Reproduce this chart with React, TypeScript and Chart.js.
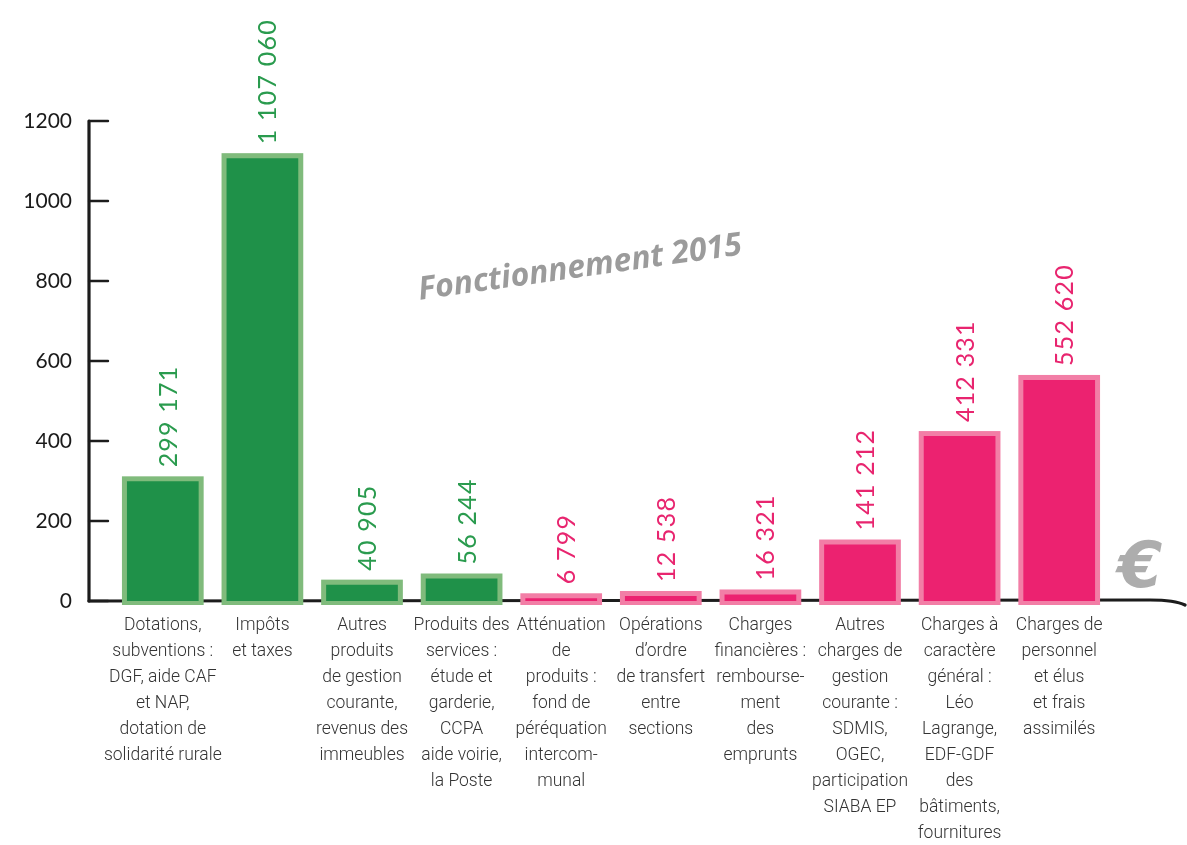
import React, { useEffect, useRef } from "react";
import { Chart, registerables } from "chart.js";

Chart.register(...registerables);

const categories: string[][] = [
  ["Dotations,", "subventions :", "DGF, aide CAF", "et NAP,", "dotation de", "solidarité rurale"],
  ["Impôts", "et taxes"],
  ["Autres", "produits", "de gestion", "courante,", "revenus des", "immeubles"],
  ["Produits des", "services :", "étude et", "garderie,", "CCPA", "aide voirie,", "la Poste"],
  ["Atténuation", "de", "produits :", "fond de", "péréquation", "intercom-", "munal"],
  ["Opérations", "d’ordre", "de transfert", "entre", "sections"],
  ["Charges", "financières :", "rembourse-", "ment", "des", "emprunts"],
  ["Autres", "charges de", "gestion", "courante :", "SDMIS,", "OGEC,", "participation", "SIABA EP"],
  ["Charges à", "caractère", "général :", "Léo", "Lagrange,", "EDF-GDF", "des", "bâtiments,", "fournitures"],
  ["Charges de", "personnel", "et élus", "et frais", "assimilés"],
];

const amounts: number[] = [299171, 1107060, 40905, 56244, 6799, 12538, 16321, 141212, 412331, 552620];

const groups: string[] = ["recette", "recette", "recette", "recette", "depense", "depense", "depense", "depense", "depense", "depense"];

const yTicks: number[] = [0, 200, 400, 600, 800, 1000, 1200];

const title = "Fonctionnement 2015";
const unit = "€";

const palette: Record<string, { fill: string; halo: string; text: string }> = {
  recette: { fill: "#1f9149", halo: "#80bb7c", text: "#2a9b4e" },
  depense: { fill: "#ec2270", halo: "#f27ea6", text: "#e8256f" },
};

const fmt = (v: number) => String(v).replace(/\B(?=(\d{3})+(?!\d))/g, " ");

const decor = {
  id: "decor",
  beforeDatasetsDraw(chart: any) {
    const ctx = chart.ctx as CanvasRenderingContext2D;
    const { left, bottom } = chart.chartArea;
    const ys = chart.scales.y;
    const axisX = left - 24;
    ctx.save();
    ctx.strokeStyle = "#1c1c1c";
    ctx.lineCap = "round";
    ctx.lineWidth = 3.2;
    ctx.beginPath();
    ctx.moveTo(axisX, ys.getPixelForValue(1200));
    ctx.lineTo(axisX, bottom);
    ctx.stroke();
    ctx.lineWidth = 2.4;
    yTicks.forEach((t) => {
      const py = ys.getPixelForValue(t);
      ctx.beginPath();
      ctx.moveTo(axisX, py);
      ctx.lineTo(axisX + 19, py);
      ctx.stroke();
    });
    ctx.lineWidth = 3.2;
    ctx.beginPath();
    ctx.moveTo(axisX, bottom);
    ctx.lineTo(1150, bottom - 1);
    ctx.quadraticCurveTo(1175, bottom - 1, 1185, bottom + 4);
    ctx.stroke();
    const meta = chart.getDatasetMeta(0);
    meta.data.forEach((bar: any, i: number) => {
      const p = bar.getProps(["x", "y", "base", "width"], true);
      ctx.fillStyle = palette[groups[i]].halo;
      ctx.fillRect(p.x - p.width / 2 - 5, p.y - 5, p.width + 10, p.base - p.y + 9);
    });
    ctx.restore();
  },
  afterDatasetsDraw(chart: any) {
    const ctx = chart.ctx as CanvasRenderingContext2D;
    const meta = chart.getDatasetMeta(0);
    ctx.save();
    meta.data.forEach((bar: any, i: number) => {
      const p = bar.getProps(["x", "y"], true);
      ctx.save();
      ctx.translate(p.x + 6, p.y - 14);
      ctx.rotate(-Math.PI / 2);
      ctx.fillStyle = palette[groups[i]].text;
      ctx.font = "25px 'Lato'";
      (ctx as any).letterSpacing = "1.2px";
      ctx.textAlign = "left";
      ctx.textBaseline = "middle";
      ctx.fillText(fmt(amounts[i]), 0, 0);
      ctx.restore();
    });
    ctx.save();
    ctx.translate(580, 268);
    ctx.rotate((-8 * Math.PI) / 180);
    ctx.fillStyle = "#9b9b9b";
    ctx.font = "italic bold 32px 'Open Sans'";
    ctx.textAlign = "center";
    ctx.textBaseline = "middle";
    ctx.fillText(title, 0, 0);
    ctx.restore();
    ctx.save();
    ctx.fillStyle = "#adadad";
    ctx.font = "italic bold 64px 'DejaVu Sans'";
    ctx.textAlign = "center";
    ctx.textBaseline = "middle";
    ctx.fillText(unit, 1140, 570);
    ctx.restore();
    ctx.restore();
  },
};

export default function App() {
  const ref = useRef<HTMLCanvasElement | null>(null);
  useEffect(() => {
    if (!ref.current) return;
    const chart = new Chart(ref.current, {
      type: "bar",
      data: {
        labels: categories,
        datasets: [
          {
            data: amounts.map((v) => v / 1000),
            backgroundColor: groups.map((g) => palette[g].fill),
            borderWidth: 0,
            barPercentage: 0.72,
            categoryPercentage: 1,
          },
        ],
      },
      options: {
        responsive: false,
        animation: false,
        layout: { padding: { top: 121, right: 78, bottom: 0, left: 0 } },
        plugins: { legend: { display: false }, tooltip: { enabled: false } },
        scales: {
          x: {
            grid: { display: false, drawTicks: false },
            border: { display: false },
            ticks: {
              autoSkip: false,
              maxRotation: 0,
              minRotation: 0,
              padding: 12,
              color: "#333333",
              font: { family: "'Roboto'", size: 17.5, weight: "300", lineHeight: 1.48 },
            },
            afterFit: (s: any) => {
              s.height = 244;
            },
          },
          y: {
            min: 0,
            max: 1200,
            grid: { display: false, drawTicks: false },
            border: { display: false },
            ticks: {
              stepSize: 200,
              padding: 41,
              color: "#1a1a1a",
              font: { family: "'Lato'", size: 21 },
              callback: (v: any) => String(v),
            },
            afterFit: (s: any) => {
              s.width = 113;
            },
          },
        },
      },
      plugins: [decor],
    });
    return () => chart.destroy();
  }, []);
  return (
    <div style={{ position: "fixed", left: 0, top: 0, width: 1187, height: 845, background: "#fff" }}>
      <canvas ref={ref} width={1187} height={845} />
    </div>
  );
}
